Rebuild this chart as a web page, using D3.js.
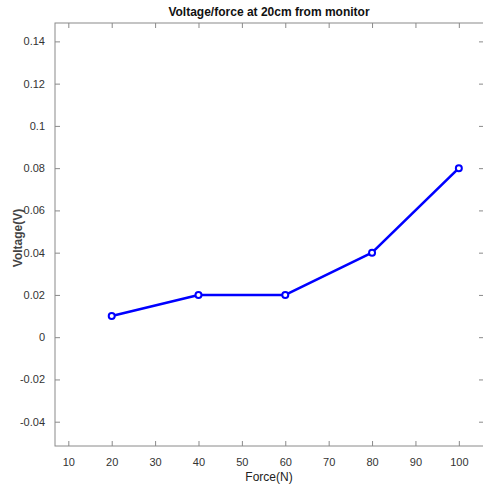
<!DOCTYPE html>
<html>
<head>
<meta charset="utf-8">
<script src="https://cdn.jsdelivr.net/npm/d3@7"></script>
<style>
  html, body { margin: 0; padding: 0; background: #fff; }
  svg { display: block; }
  text { font-family: "Liberation Sans", Arial, Helvetica, sans-serif; }
</style>
</head>
<body>
<script>
// Measured output voltage against applied force
const forces = [20, 40, 60, 80, 100];
const voltages = [0.01, 0.02, 0.02, 0.04, 0.08];
const xTicks = [10, 20, 30, 40, 50, 60, 70, 80, 90, 100];
const yTicks = [-0.04, -0.02, 0, 0.02, 0.04, 0.06, 0.08, 0.1, 0.12, 0.14];

const W = 483, H = 488;
const plot = { left: 55, top: 23, right: 484, bottom: 446 };

const svg = d3.select("body").append("svg")
  .attr("width", W).attr("height", H);

const x = d3.scaleLinear().domain([6.93, 105.8]).range([plot.left, plot.right]);
const y = d3.scaleLinear().domain([-0.0515, 0.1487]).range([plot.bottom, plot.top]);

const axisColor = "#8a8a8a";
const textColor = "#333";
const tickLen = 5;

// Axes box
svg.append("rect")
  .attr("x", plot.left).attr("y", plot.top)
  .attr("width", plot.right - plot.left).attr("height", plot.bottom - plot.top)
  .attr("fill", "none").attr("stroke", axisColor).attr("stroke-width", 1);

// Bottom axis (ticks inward) with labels
const xAxis = svg.append("g")
  .attr("transform", `translate(0,${plot.bottom})`)
  .call(d3.axisBottom(x).tickValues(xTicks).tickSize(-tickLen).tickPadding(12)
    .tickFormat(d => String(d)));
xAxis.select(".domain").remove();
xAxis.selectAll("line").attr("stroke", axisColor);
xAxis.selectAll("text").attr("fill", textColor).attr("font-size", 11);

// Top axis ticks
const xTop = svg.append("g")
  .attr("transform", `translate(0,${plot.top})`)
  .call(d3.axisTop(x).tickValues(xTicks).tickSize(-tickLen).tickFormat(""));
xTop.select(".domain").remove();
xTop.selectAll("line").attr("stroke", axisColor);

// Left axis (ticks inward) with labels, plain hyphen for negatives
const yAxis = svg.append("g")
  .attr("transform", `translate(${plot.left},0)`)
  .call(d3.axisLeft(y).tickValues(yTicks).tickSize(-tickLen).tickPadding(10)
    .tickFormat(d => String(+d.toFixed(2))));
yAxis.select(".domain").remove();
yAxis.selectAll("line").attr("stroke", axisColor);
yAxis.selectAll("text").attr("fill", textColor).attr("font-size", 11);

// Right axis ticks
const yRight = svg.append("g")
  .attr("transform", `translate(${plot.right},0)`)
  .call(d3.axisRight(y).tickValues(yTicks).tickSize(-tickLen).tickFormat(""));
yRight.select(".domain").remove();
yRight.selectAll("line").attr("stroke", axisColor);

// Title and axis labels
svg.append("text")
  .attr("x", 269).attr("y", 16)
  .attr("text-anchor", "middle")
  .attr("font-size", 12).attr("font-weight", "bold").attr("fill", "#111")
  .text("Voltage/force at 20cm from monitor");

svg.append("text")
  .attr("x", 269).attr("y", 481)
  .attr("text-anchor", "middle")
  .attr("font-size", 12).attr("fill", "#222")
  .text("Force(N)");

svg.append("text")
  .attr("transform", `translate(22,238) rotate(-90)`)
  .attr("text-anchor", "middle")
  .attr("font-size", 12).attr("font-weight", "bold").attr("fill", "#444")
  .text("Voltage(V)");

// Data line with circle markers
const line = d3.line().x((d, i) => x(forces[i])).y(d => y(d));
svg.append("path")
  .datum(voltages)
  .attr("d", line)
  .attr("fill", "none")
  .attr("stroke", "#0000ff")
  .attr("stroke-width", 2.6)
  .attr("stroke-linejoin", "round");

svg.append("g").selectAll("circle")
  .data(voltages)
  .join("circle")
  .attr("cx", (d, i) => x(forces[i]))
  .attr("cy", d => y(d))
  .attr("r", 3)
  .attr("fill", "#fff")
  .attr("stroke", "#0000ff")
  .attr("stroke-width", 2);
</script>
</body>
</html>
